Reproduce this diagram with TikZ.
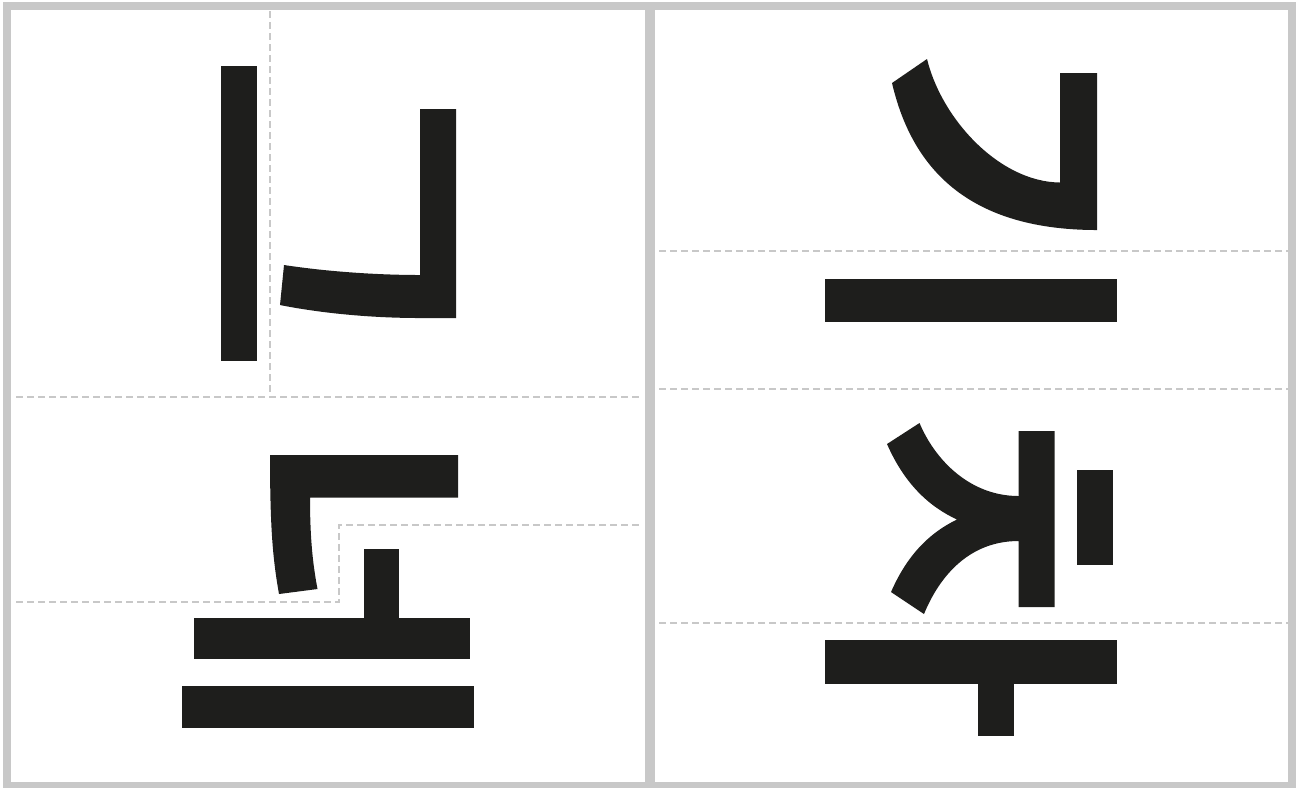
\documentclass[tikz,border=0pt]{standalone}
\definecolor{ink}{HTML}{1E1E1C}
\definecolor{rule}{HTML}{C8C8C8}
\begin{document}
\begin{tikzpicture}[x=0.01cm, y=-0.01cm,
  frame/.style={draw=rule, line width=0.08cm},
  guide/.style={draw=rule, line width=0.025cm, dash pattern=on 0.07cm off 0.04cm},
  jamo/.style={fill=ink}]
\useasboundingbox (0,0) rectangle (1298,787);
% panels
\draw[frame] (7,6) rectangle (649,786);
\draw[frame] (651,6) rectangle (1292,786);
% guides, left panel
\draw[guide] (270,11) -- (270,397);
\draw[guide] (16,397) -- (642,397);
\draw[guide] (16,602) -- (339,602) -- (339,525) -- (642,525);
% guides, right panel
\foreach \g in {251,389,623}
  \draw[guide] (659,\g) -- (1288,\g);
% left panel, top
\fill[jamo] (221,66) rectangle (257,361);
\fill[jamo] (284,265) .. controls (330,272) and (380,275) .. (420,275)
  -- (420,109) -- (456,109) -- (456,318) -- (420,318)
  .. controls (370,318) and (320,313) .. (280,305) -- cycle;
% left panel, bottom
\fill[jamo] (270,455) -- (458,455) -- (458,497.5) -- (310,497.5)
  .. controls (310,540) and (313,565) .. (317.5,589) -- (279,594)
  .. controls (273,560) and (270,530) .. (270,455) -- cycle;
\fill[jamo] (364,549) rectangle (399,618);
\fill[jamo] (194,618) rectangle (470,659);
\fill[jamo] (182,686) rectangle (474,728);
% right panel, top
\fill[jamo] (892,83) .. controls (910,160) and (960,230) .. (1097,230)
  -- (1097,73) -- (1060,73) -- (1060,182.5)
  .. controls (1000,182) and (942,120) .. (927,59) -- cycle;
\fill[jamo] (825,279) rectangle (1117,322);
% right panel, bottom
\fill[jamo] (919.5,423) .. controls (935,460) and (970,496) .. (1018.5,496)
  -- (1018.5,431) -- (1054.5,431) -- (1054.5,607) -- (1018.5,607) -- (1018.5,541)
  .. controls (970,541) and (940,575) .. (924,614) -- (891,592)
  .. controls (905,560) and (925,535) .. (957,519.5)
  .. controls (930,507) and (905,485) .. (887,444) -- cycle;
\fill[jamo] (1076.5,470) rectangle (1113,565);
\fill[jamo] (825,640) rectangle (1117,683.5);
\fill[jamo] (977.5,683) rectangle (1013.5,735.5);
\end{tikzpicture}
\end{document}
